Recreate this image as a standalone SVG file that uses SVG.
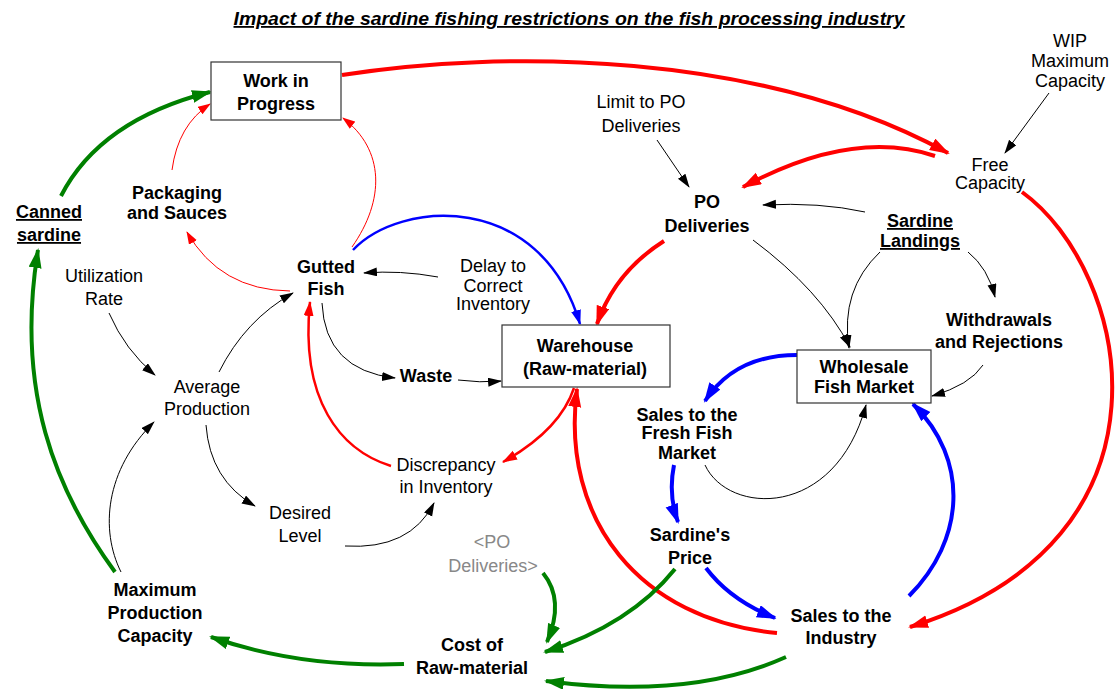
<svg xmlns="http://www.w3.org/2000/svg" width="1120" height="689" viewBox="0 0 1120 689">
<style>
text{font-family:"Liberation Sans",Arial,sans-serif;font-size:18px;text-anchor:middle;fill:#000}
.b{font-weight:bold}
.u{text-decoration:underline}
.g{fill:#888}
.box{fill:#fff;stroke:#333;stroke-width:1.2}
#connectors path{fill:none}
.rT{stroke:#f00;stroke-width:4}
.rM{stroke:#f00;stroke-width:2.5}
.rS{stroke:#f00;stroke-width:1}
.gT{stroke:#008000;stroke-width:4}
.bT{stroke:#00f;stroke-width:4}
.bM{stroke:#00f;stroke-width:2.5}
.k{stroke:#000;stroke-width:1}
</style>
<defs>
<marker id="aRB" markerUnits="userSpaceOnUse" markerWidth="22" markerHeight="14" refX="18" refY="6.5" orient="auto"><path d="M0,0 L20,6.5 L0,13 z" fill="#f00"/></marker>
<marker id="aRM" markerUnits="userSpaceOnUse" markerWidth="18" markerHeight="12" refX="14" refY="5" orient="auto"><path d="M0,0 L15,5 L0,10 z" fill="#f00"/></marker>
<marker id="aRS" markerUnits="userSpaceOnUse" markerWidth="16" markerHeight="10" refX="12" refY="4.5" orient="auto"><path d="M0,0 L13,4.5 L0,9 z" fill="#f00"/></marker>
<marker id="aGB" markerUnits="userSpaceOnUse" markerWidth="22" markerHeight="14" refX="18" refY="6.5" orient="auto"><path d="M0,0 L20,6.5 L0,13 z" fill="#008000"/></marker>
<marker id="aBB" markerUnits="userSpaceOnUse" markerWidth="22" markerHeight="14" refX="18" refY="6.5" orient="auto"><path d="M0,0 L20,6.5 L0,13 z" fill="#00f"/></marker>
<marker id="aBM" markerUnits="userSpaceOnUse" markerWidth="18" markerHeight="12" refX="14" refY="5" orient="auto"><path d="M0,0 L15,5 L0,10 z" fill="#00f"/></marker>
<marker id="aK" markerUnits="userSpaceOnUse" markerWidth="16" markerHeight="10" refX="13" refY="4.5" orient="auto"><path d="M0,0 L14,4.5 L0,9 z" fill="#000"/></marker>
</defs>

<text x="569" y="25" class="b u" textLength="671" lengthAdjust="spacingAndGlyphs" style="font-style:italic;font-size:18px">Impact of the sardine fishing restrictions on the fish processing industry</text>

<g id="connectors">
<path class="rT" marker-end="url(#aRB)" d="M342,75 C500,50 760,50 948,153"/>
<path class="rT" marker-end="url(#aRB)" d="M935,156 Q853,128 743,187"/>
<path class="rT" marker-end="url(#aRB)" d="M664,241 Q615,272 597,324"/>
<path class="rM" marker-end="url(#aRM)" d="M391,466 C340,450 300,400 310,302"/>
<path class="rM" marker-end="url(#aRM)" d="M574,388 Q560,430 503,462"/>
<path class="rT" marker-end="url(#aRB)" d="M777,633 C640,620 560,520 577,389"/>
<path class="rT" marker-end="url(#aRB)" d="M1022,192 C1130,270 1190,540 910,627"/>
<path class="rS" marker-end="url(#aRS)" d="M352,247 C385,200 385,150 343,118"/>
<path class="rS" marker-end="url(#aRS)" d="M290,291 Q220,290 187,232"/>
<path class="rS" marker-end="url(#aRS)" d="M172,170 Q178,125 210,104"/>
<path class="gT" marker-end="url(#aGB)" d="M61,196 Q100,120 210,92"/>
<path class="gT" marker-end="url(#aGB)" d="M115,572 C55,490 15,390 38,250"/>
<path class="gT" marker-end="url(#aGB)" d="M404,664 Q300,668 211,637"/>
<path class="gT" marker-end="url(#aGB)" d="M543,573 Q565,600 547,642"/>
<path class="gT" marker-end="url(#aGB)" d="M675,569 Q630,625 545,652"/>
<path class="gT" marker-end="url(#aGB)" d="M786,657 Q690,700 546,681"/>
<path class="bM" marker-end="url(#aBM)" d="M353,250 C400,200 540,190 580,324"/>
<path class="bT" marker-end="url(#aBB)" d="M797,355 Q735,355 705,401"/>
<path class="bT" marker-end="url(#aBB)" d="M674,465 Q668,495 678,522"/>
<path class="bT" marker-end="url(#aBB)" d="M706,568 Q730,600 775,618"/>
<path class="bT" marker-end="url(#aBB)" d="M909,596 C965,540 970,460 913,404"/>
<path class="k" marker-end="url(#aK)" d="M438,277 Q400,270 364,273"/>
<path class="k" marker-end="url(#aK)" d="M322,303 Q325,370 395,378"/>
<path class="k" marker-end="url(#aK)" d="M458,380 Q480,383 501,381"/>
<path class="k" marker-end="url(#aK)" d="M109,313 Q125,350 155,375"/>
<path class="k" marker-end="url(#aK)" d="M219,372 Q245,320 293,293"/>
<path class="k" marker-end="url(#aK)" d="M206,425 Q210,480 255,506"/>
<path class="k" marker-end="url(#aK)" d="M345,546 Q410,550 434,503"/>
<path class="k" marker-end="url(#aK)" d="M121,572 C100,530 105,470 154,422"/>
<path class="k" marker-end="url(#aK)" d="M657,140 L689,187"/>
<path class="k" marker-end="url(#aK)" d="M1049,93 L1005,153"/>
<path class="k" marker-end="url(#aK)" d="M865,212 Q820,202 763,205"/>
<path class="k" marker-end="url(#aK)" d="M753,240 Q820,290 850,347"/>
<path class="k" marker-end="url(#aK)" d="M880,252 Q840,290 849,348"/>
<path class="k" marker-end="url(#aK)" d="M968,252 Q988,268 995,297"/>
<path class="k" marker-end="url(#aK)" d="M983,365 Q970,385 932,396"/>
<path class="k" marker-end="url(#aK)" d="M705,465 C728,515 835,520 866,405"/>
</g>

<g id="wip"><rect class="box" x="211" y="62" width="130" height="58"/><text class="b" x="276" y="87">Work in</text><text class="b" x="276" y="110">Progress</text></g>
<g id="warehouse"><rect class="box" x="502" y="325" width="168" height="62"/><text class="b" x="585" y="352">Warehouse</text><text class="b" x="585" y="375">(Raw-material)</text></g>
<g id="wholesale"><rect class="box" x="797" y="350" width="134" height="53"/><text class="b" x="864" y="373">Wholesale</text><text class="b" x="864" y="393">Fish Market</text></g>
<g id="packaging"><text class="b" x="177" y="199">Packaging</text><text class="b" x="177" y="219">and Sauces</text></g>
<g id="canned"><text class="b u" x="49" y="218">Canned</text><text class="b u" x="49" y="241">sardine</text></g>
<g id="utilization"><text x="104" y="282">Utilization</text><text x="104" y="305">Rate</text></g>
<g id="gutted"><text class="b" x="326" y="273">Gutted</text><text class="b" x="326" y="295">Fish</text></g>
<g id="delay"><text x="493" y="272">Delay to</text><text x="493" y="292">Correct</text><text x="493" y="310">Inventory</text></g>
<g id="waste"><text class="b" x="426" y="382">Waste</text></g>
<g id="average"><text x="207" y="393">Average</text><text x="207" y="415">Production</text></g>
<g id="discrepancy"><text x="446" y="471">Discrepancy</text><text x="446" y="493">in Inventory</text></g>
<g id="desired"><text x="300" y="519">Desired</text><text x="300" y="542">Level</text></g>
<g id="po-shadow"><text class="g" x="492" y="548">&lt;PO</text><text class="g" x="493" y="572">Deliveries&gt;</text></g>
<g id="maxprod"><text class="b" x="155" y="596">Maximum</text><text class="b" x="155" y="619">Production</text><text class="b" x="155" y="642">Capacity</text></g>
<g id="cost"><text class="b" x="472" y="651">Cost of</text><text class="b" x="472" y="674">Raw-material</text></g>
<g id="limit"><text x="641" y="108">Limit to PO</text><text x="641" y="132">Deliveries</text></g>
<g id="po"><text class="b" x="707" y="208">PO</text><text class="b" x="707" y="232">Deliveries</text></g>
<g id="wipmax"><text x="1070" y="47">WIP</text><text x="1070" y="67">Maximum</text><text x="1070" y="87">Capacity</text></g>
<g id="free"><text x="990" y="171">Free</text><text x="990" y="189">Capacity</text></g>
<g id="landings"><text class="b u" x="920" y="227">Sardine</text><text class="b u" x="920" y="247">Landings</text></g>
<g id="withdrawals"><text class="b" x="999" y="326">Withdrawals</text><text class="b" x="999" y="348">and Rejections</text></g>
<g id="salesfresh"><text class="b" x="687" y="421">Sales to the</text><text class="b" x="687" y="439">Fresh Fish</text><text class="b" x="687" y="459">Market</text></g>
<g id="price"><text class="b" x="690" y="541">Sardine's</text><text class="b" x="690" y="564">Price</text></g>
<g id="salesind"><text class="b" x="841" y="622">Sales to the</text><text class="b" x="841" y="644">Industry</text></g>
</svg>
